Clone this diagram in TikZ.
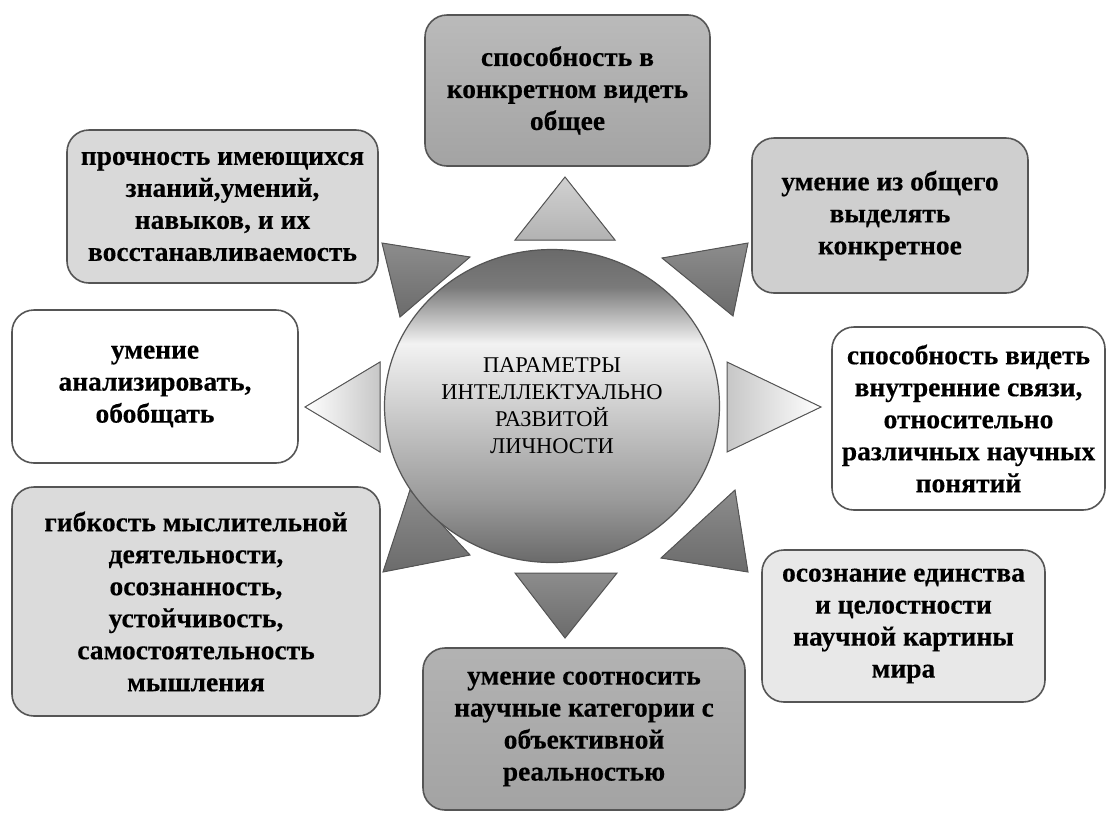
\documentclass[tikz,border=0pt]{standalone}
\usepackage{fontspec}
\setmainfont{Liberation Serif}
\newfontfamily\boxfont[BoldFeatures={FakeBold=0.3}]{Liberation Serif}
\usetikzlibrary{shapes.geometric}
\definecolor{edge}{HTML}{555555}
\definecolor{cdark}{HTML}{6A6A6A}
\definecolor{cdark2}{HTML}{7A7A7A}
\definecolor{clight}{HTML}{F2F2F2}
\definecolor{cmid}{HTML}{CFCFCF}
\definecolor{cmid2}{HTML}{9A9A9A}
\pgfdeclareverticalshading{circshade}{100bp}{color(0bp)=(cdark); color(25bp)=(cdark); color(35bp)=(cmid2); color(50bp)=(cmid); color(60bp)=(clight); color(69bp)=(cdark2); color(75bp)=(cdark); color(100bp)=(cdark)}
\tikzset{
  box/.style={draw=edge, line width=1.6pt, rounded corners=22pt, align=center,
    font=\boxfont\bfseries\fontsize{27.5}{32}\selectfont, inner sep=0pt},
  tri/.style={draw=edge, line width=1pt, line join=miter},
  darktri/.style={tri, top color=black!45, bottom color=black!58},
}
\begin{document}
\begin{tikzpicture}[x=1pt,y=-1pt]
\useasboundingbox (0,0) rectangle (1107,812);
% boxes
\node[box, top color=black!27, bottom color=black!36, minimum width=285pt, minimum height=151pt] (b1) at (567.5,90.5) {способность в\\конкретном видеть\\общее};
\node[box, fill=black!15, minimum width=311pt, minimum height=153pt] (b2) at (222.5,206.5) {прочность имеющихся\\знаний,умений,\\навыков, и их\\восстанавливаемость};
\node[box, fill=black!19, minimum width=276pt, minimum height=155pt] (b3) at (890,215.5) {умение из общего\\выделять\\конкретное};
\node[box, fill=white, minimum width=286pt, minimum height=153pt] (b4) at (155,386.5) {умение\\анализировать,\\обобщать};
\node[box, fill=white, minimum width=273pt, minimum height=183pt] (b5) at (968.5,418.5) {способность видеть\\внутренние связи,\\относительно\\различных научных\\понятий};
\node[box, fill=black!14, minimum width=368pt, minimum height=229pt] (b6) at (196,601.5) {гибкость мыслительной\\деятельности,\\осознанность,\\устойчивость,\\самостоятельность\\мышления};
\node[box, top color=black!30, bottom color=black!36, minimum width=322pt, minimum height=162pt] (b7) at (584,729) {умение соотносить\\научные категории с\\объективной\\реальностью};
\node[box, fill=black!9, minimum width=283pt, minimum height=152pt] (b8) at (903.5,626) {осознание единства\\и целостности\\научной картины\\мира};
% triangles
\filldraw[tri, top color=black!18, bottom color=black!30] (515,240) -- (565,177) -- (615,240) -- cycle;
\filldraw[darktri] (382,243) -- (470,257) -- (400,317) -- cycle;
\filldraw[darktri] (662,258) -- (748,243) -- (733,316) -- cycle;
\filldraw[tri, left color=white, right color=black!22] (305,407) -- (380,362) -- (380,452) -- cycle;
\filldraw[tri, left color=black!22, right color=white] (727,362) -- (821,407) -- (727,452) -- cycle;
\filldraw[darktri] (410,490) -- (470,555) -- (383,572) -- cycle;
\filldraw[darktri] (735,490) -- (748,572) -- (661,558) -- cycle;
\filldraw[darktri] (515,573) -- (617,573) -- (565,638) -- cycle;
% centre
\node[ellipse, draw=edge, line width=1.2pt, minimum width=335pt, minimum height=313pt, inner sep=0pt, shading=circshade, align=center, font=\fontsize{22.5}{27}\selectfont] (c) at (552,406) {ПАРАМЕТРЫ\\ИНТЕЛЛЕКТУАЛЬНО\\РАЗВИТОЙ\\ЛИЧНОСТИ};
\end{tikzpicture}
\end{document}
